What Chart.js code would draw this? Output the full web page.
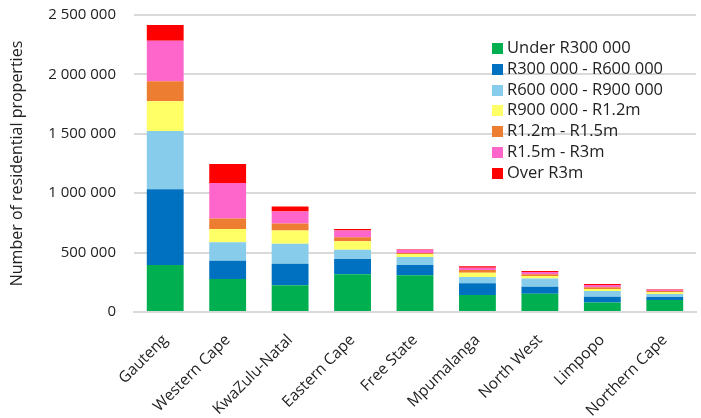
<!DOCTYPE html>
<html>
<head>
<meta charset="utf-8">
<script src="https://cdn.jsdelivr.net/npm/chart.js@4"></script>
<style>
  html, body { margin: 0; padding: 0; background: #fff; }
  #wrap { position: relative; width: 701px; height: 418px; }
  #legend { position: absolute; left: 492px; top: 37px; font-family: 'Open Sans', sans-serif; font-size: 16.5px; color: #222; }
  #legend div { height: 20.8px; line-height: 20.8px; white-space: nowrap; }
  #legend span { display: inline-block; width: 11px; height: 11px; margin-right: 4px; vertical-align: -1px; }
</style>
</head>
<body>
<div id="wrap">
  <canvas id="propChart" width="701" height="418"></canvas>
  <div id="legend"></div>
</div>
<script>
const provinces = ['Gauteng', 'Western Cape', 'KwaZulu-Natal', 'Eastern Cape', 'Free State', 'Mpumalanga', 'North West', 'Limpopo', 'Northern Cape'];
const bandNames = ['Under R300 000', 'R300 000 - R600 000', 'R600 000 - R900 000', 'R900 000 - R1.2m', 'R1.2m - R1.5m', 'R1.5m - R3m', 'Over R3m'];
const bandColors = ['#00B050', '#0070C0', '#87CCEA', '#FFFF66', '#ED7D31', '#FF66CC', '#FF0000'];

const under300k = [395000, 278000, 225000, 317000, 309000, 143000, 154000, 79000, 101000];
const r300to600k = [638000, 154000, 182000, 129000, 87000, 99000, 59000, 50000, 25000];
const r600to900k = [491000, 155000, 168000, 79000, 67000, 53000, 68000, 48000, 26000];
const r900kto1_2m = [250000, 112000, 110000, 70000, 25000, 36000, 22000, 17000, 14000];
const r1_2to1_5m = [168000, 87000, 61000, 34000, 8000, 23000, 14000, 14000, 11000];
const r1_5to3m = [342000, 300000, 101000, 56000, 29000, 19000, 20000, 19000, 11000];
const over3m = [132000, 160000, 40000, 14000, 4000, 12000, 8000, 9000, 3000];

const yTicks = [0, 500000, 1000000, 1500000, 2000000, 2500000];

const bandData = [under300k, r300to600k, r600to900k, r900kto1_2m, r1_2to1_5m, r1_5to3m, over3m];

function fmt(v) {
  return String(v).replace(/\B(?=(\d{3})+(?!\d))/g, ' ');
}

const ctx = document.getElementById('propChart').getContext('2d');
const propChart = new Chart(ctx, {
  type: 'bar',
  data: {
    labels: provinces,
    datasets: bandData.map((d, i) => ({
      label: bandNames[i],
      data: d,
      backgroundColor: bandColors[i],
      borderWidth: 0,
      barPercentage: 0.59,
      categoryPercentage: 1
    }))
  },
  options: {
    responsive: false,
    animation: false,
    layout: { padding: { top: 15, right: 5, left: 0, bottom: 0 } },
    plugins: {
      legend: { display: false },
      tooltip: { enabled: false }
    },
    scales: {
      x: {
        stacked: true,
        grid: { display: false },
        border: { color: '#d9d9d9', width: 2 },
        ticks: {
          minRotation: 45,
          maxRotation: 45,
          padding: 11,
          color: '#222',
          font: { family: 'Open Sans', size: 15.5 }
        },
        afterFit: scale => { scale.height = 106; }
      },
      y: {
        stacked: true,
        min: 0,
        max: 2500000,
        afterBuildTicks: scale => { scale.ticks = yTicks.map(v => ({ value: v })); },
        grid: { color: '#d9d9d9', lineWidth: 2, drawTicks: true, tickLength: 16, tickColor: 'rgba(0,0,0,0)' },
        border: { display: false },
        ticks: {
          padding: 2,
          color: '#222',
          font: { family: 'Open Sans', size: 15 },
          callback: v => fmt(v)
        },
        title: {
          display: true,
          text: 'Number of residential properties',
          color: '#222',
          font: { family: 'Open Sans', size: 16 },
          padding: { top: 8, bottom: 0 }
        },
        afterFit: scale => { scale.width = 134; }
      }
    }
  }
});

const legend = document.getElementById('legend');
bandNames.forEach((name, i) => {
  const row = document.createElement('div');
  const box = document.createElement('span');
  box.style.background = bandColors[i];
  row.appendChild(box);
  row.appendChild(document.createTextNode(name));
  legend.appendChild(row);
});
</script>
</body>
</html>
